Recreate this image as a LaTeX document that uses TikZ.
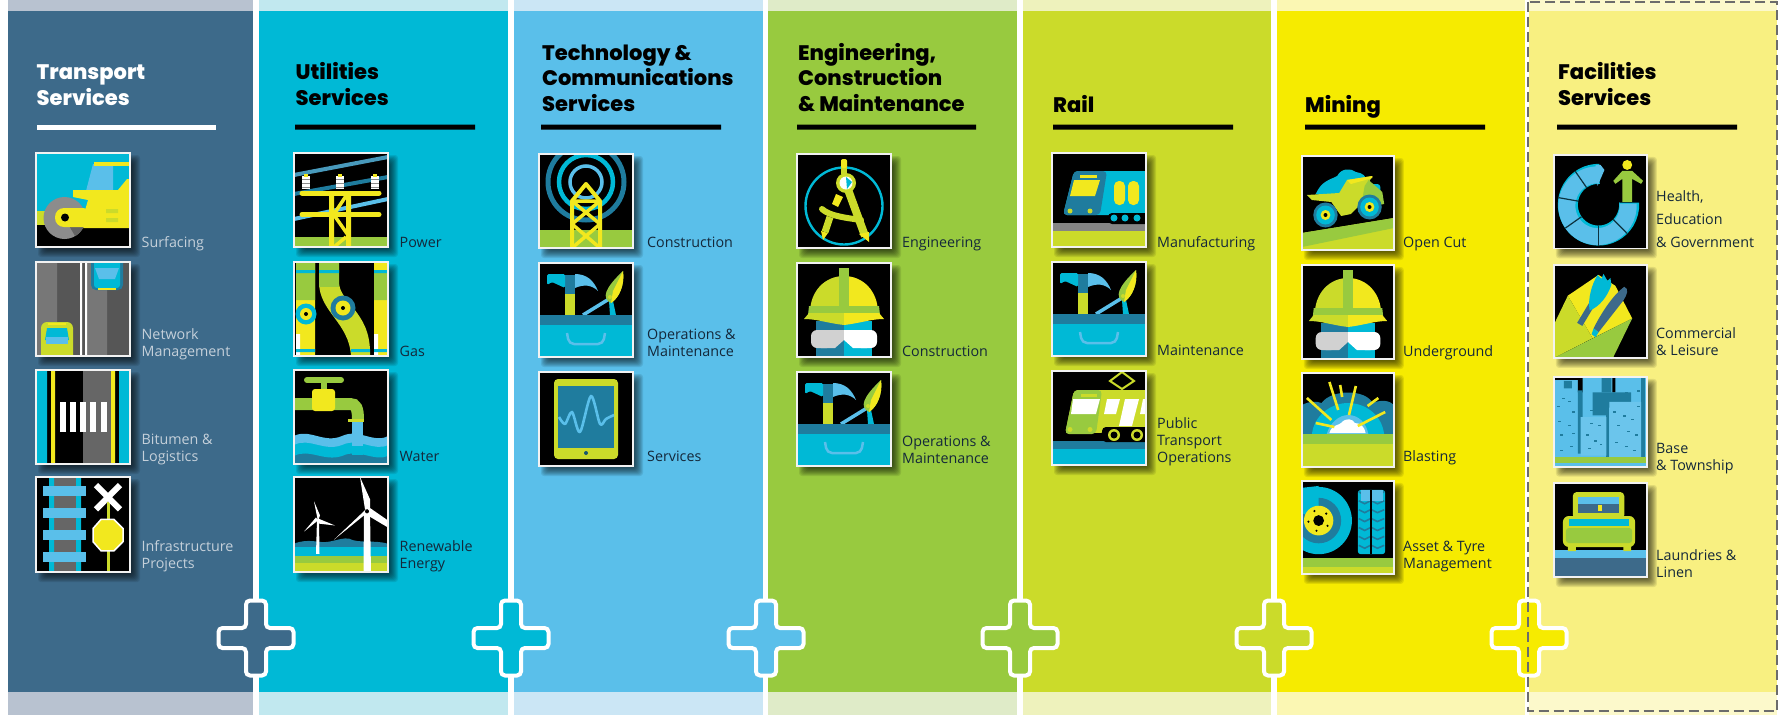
\documentclass[tikz,border=0pt]{standalone}
\usepackage{fontspec}
\newfontfamily\headf{Poppins ExtraBold}
\newfontfamily\lblf{Open Sans}
\definecolor{colA}{HTML}{3D6A8A}\definecolor{bandA}{HTML}{B8C2D0}
\definecolor{colB}{HTML}{00B9D6}\definecolor{bandB}{HTML}{C1E8EF}
\definecolor{colC}{HTML}{5ABFEA}\definecolor{bandC}{HTML}{CBE6F5}
\definecolor{colD}{HTML}{98CA3F}\definecolor{bandD}{HTML}{DFEBC8}
\definecolor{colE}{HTML}{CBDB2A}\definecolor{bandE}{HTML}{EEF2BC}
\definecolor{colF}{HTML}{F6EB00}\definecolor{bandF}{HTML}{FBF7B3}
\definecolor{colG}{HTML}{F8F081}\definecolor{bandG}{HTML}{FCF9CB}
\definecolor{cT}{HTML}{00B9D6}\definecolor{cB}{HTML}{5ABFEA}\definecolor{cD}{HTML}{1F7C9E}
\definecolor{cG}{HTML}{98CA3F}\definecolor{cL}{HTML}{CBDB2A}\definecolor{cY}{HTML}{F2E81E}
\definecolor{cN}{HTML}{3D6A8A}\definecolor{gA}{HTML}{8C8C8C}\definecolor{gB}{HTML}{666666}\definecolor{gC}{HTML}{565656}
\definecolor{lblLight}{HTML}{C5D0DA}\definecolor{lblDark}{HTML}{14283A}
\tikzset{
 headtext/.style={anchor=base west,inner sep=0pt,align=left,font=\headf\fontsize{21}{25.5}\selectfont},
 lbltext/.style={anchor=base west,inner sep=0pt,align=left,text=lblDark,font=\lblf\fontsize{14.3}{17}\selectfont},
 iconframe/.style={draw=white!90!gray,line width=1.3pt},
 plusmark/.style={draw=white,line width=4pt,rounded corners=4pt}
}
\newcommand\iconat[5]{%
 \begin{scope}[shift={(#1,#2)},xscale=#3/94,yscale=#4/94]
 \foreach \s in {-4,...,4}{\fill[black,opacity=.09,rounded corners=3pt] ({6-\s},{6-\s}) rectangle ({100+\s},{100+\s});}
 \begin{scope}\clip (0,0) rectangle (94,94); #5 \end{scope}
 \draw[iconframe] (0,0) rectangle (94,94);
 \end{scope}}
\newcommand\column[4]{% x0,x1,fill,band
 \fill[#4] (#1,0) rectangle (#2,715);
 \fill[#3] (#1,11) rectangle (#2,692);}
\newcommand\plusat[3]{%
 \draw[plusmark,fill=#3] (#1-10,#2-37.5) -- (#1+10,#2-37.5) -- (#1+10,#2-10) -- (#1+37.5,#2-10) -- (#1+37.5,#2+10) -- (#1+10,#2+10) -- (#1+10,#2+37.5) -- (#1-10,#2+37.5) -- (#1-10,#2+10) -- (#1-37.5,#2+10) -- (#1-37.5,#2-10) -- (#1-10,#2-10) -- cycle;}
% ---------- icons ----------
\newcommand\icRoller{
 \fill[cT] (0,0) rectangle (94,94);
 \fill[cL] (0,58) rectangle (14,72);
 \fill[black] (0,72) rectangle (94,94);
 \fill[cB] (57,11) -- (77,11) -- (77,38) -- (50,38) -- cycle;
 \fill[cY] (58,8.5) rectangle (94,13);
 \fill[cY] (37,37) -- (82,37) -- (91,26) -- (94,26) -- (94,75) -- (44,75) -- (52,47) -- (37,44) -- cycle;
 \fill[cL] (70,56) rectangle (82,60) (70,65) rectangle (82,69);
 \fill[gA] (28.5,65) circle (21);
 \fill[gA!70!black] (28.5,65) -- (49,70) arc (14:60:21) -- cycle;
 \fill[cY,rounded corners=9pt] (19,55) rectangle (56,74);
 \fill[black] (29,64.5) circle (4);}
\newcommand\icNetwork{
 \fill[gC] (0,0) rectangle (94,94);
 \fill[gA!85!black] (0,0) rectangle (21,94) (51,0) rectangle (71,94);
 \fill[white] (44,0) rectangle (46,94) (49,0) rectangle (51,94);
 \fill[cD,rounded corners=5pt] (55,-8) rectangle (87,28);
 \fill[cT,rounded corners=3pt] (58,-5) rectangle (84,26);
 \fill[cB] (59,6) -- (83,6) -- (79,17) -- (63,17) -- cycle;
 \fill[cY] (62,25.5) rectangle (80,27.5);
 \fill[cL,rounded corners=6pt] (5,60) rectangle (37,100);
 \fill[cY] (12,61) rectangle (30,63);
 \fill[cT] (11,66) -- (31,66) -- (33,78) -- (9,78) -- cycle;
 \fill[cB] (10,75) rectangle (32,82);}
\newcommand\icBitumen{
 \fill[black] (0,0) rectangle (94,94);
 \fill[cT] (0,0) rectangle (11,94) (83,0) rectangle (94,94);
 \fill[cY] (15,0) rectangle (19,94) (75,0) rectangle (79,94);
 \fill[gB] (47,0) rectangle (75,94);
 \foreach \i in {0,1,2,3,4}{\fill[white] ({23.5+\i*10.3},32) rectangle ({29.5+\i*10.3},62);}}
\newcommand\icRail{
 \fill[black] (0,0) rectangle (94,94);
 \fill[gB] (18,0) rectangle (40,94);
 \fill[cT] (13,0) rectangle (18,94) (40,0) rectangle (45,94);
 \foreach \y in {9,31,52,74}{\fill[cB] (7,\y) rectangle (50,{\y+10});}
 \fill[cL] (70.5,25) rectangle (73.5,94);
 \draw[white,line width=6pt] (60,8) -- (84,32) (84,8) -- (60,32);
 \fill[cY,draw=white,line width=1.5pt] (65,42) -- (78,42) -- (87,51) -- (87,64) -- (78,73) -- (65,73) -- (57,64) -- (57,51) -- cycle;}
\newcommand\icPower{
 \fill[black] (0,0) rectangle (94,94);
 \fill[cG] (0,84) rectangle (94,94);
 \draw[cB!80!black,line width=4pt] (0,22) -- (94,4);
 \draw[cD,line width=4pt] (0,41) -- (94,24);
 \draw[cB,line width=4pt] (0,66) -- (94,46);
 \foreach \x in {12,46,81}{\fill[white] ({\x-4},23) rectangle ({\x+4},36);\foreach \y in {26,30,34}{\fill[gA] ({\x-4},\y) rectangle ({\x+4},{\y+1});}\fill[cY] ({\x-2},21) rectangle ({\x+2},24);}
 \draw[cY,line width=5pt,line cap=round] (8,40) -- (85,40) (8,61.5) -- (85,61.5);
 \fill[cY] (35,40) rectangle (40,94) (52,40) rectangle (57,94);
 \draw[cY,line width=3.5pt] (52,43) -- (40,61) -- (55,61) (40,62) -- (54,82) (40,94) -- (52,84);}
\newcommand\icGas{
 \fill[black] (0,0) rectangle (94,94);
 \fill[cY] (2,0) rectangle (21,94) (80,0) rectangle (94,94);
 \fill[cG] (2,0) rectangle (21,38) (80,10) rectangle (94,38);
 \fill[white] (2,72) rectangle (6,94) (80,72) rectangle (84,94);
 \fill[cL] (25,0) -- (45,0) -- (45,20) .. controls (45,40) and (76,50) .. (76,90) -- (76,94) -- (57,94) .. controls (55,60) and (25,50) .. (25,20) -- cycle;
 \fill[cG] (25,0) rectangle (45,25);
 \fill[cT] (2,8) rectangle (21,11) (25,8) rectangle (45,11) (80,8) rectangle (94,11);
 \fill[cT] (2,87) rectangle (21,90) (57,87) rectangle (76,90) (80,87) rectangle (94,90);
 \fill[cT] (12,52) circle (10.5); \fill[cY] (12,52) circle (6); \fill[black] (12,52) circle (2);
 \fill[cD] (49,46) circle (12.5); \fill[cY] (49,46) circle (7.5); \fill[black] (49,46) circle (2);}
\newcommand\icWater{
 \fill[black] (0,0) rectangle (94,94);
 \fill[cD] (0,82) rectangle (94,94);
 \fill[cT] (0,74) .. controls (15,66) and (30,82) .. (48,74) .. controls (65,66) and (80,82) .. (94,74) -- (94,86) .. controls (80,92) and (65,78) .. (48,86) .. controls (30,92) and (15,78) .. (0,86) -- cycle;
 \fill[cB] (0,66) .. controls (15,58) and (30,74) .. (48,66) .. controls (65,58) and (80,74) .. (94,66) -- (94,75) .. controls (80,82) and (65,67) .. (48,75) .. controls (30,82) and (15,67) .. (0,75) -- cycle;
 \fill[cB] (58,52) rectangle (69,76);
 \fill[cT] (58,76) rectangle (69,85);
 \draw[cG,line width=12pt] (0,34) -- (56,34) .. controls (62,34) and (64,38) .. (64,50);
 \fill[cL] (54,49) rectangle (70,52);
 \draw[cG,line width=6pt,line cap=round] (13,10) -- (47,10);
 \fill[cG] (27,10) rectangle (33,20);
 \fill[cY,rounded corners=3pt] (18,19) rectangle (41,41);}
\newcommand\icWind{
 \fill[black] (0,0) rectangle (94,94);
 \fill[cD] (0,68) -- (0,66) .. controls (15,60) and (25,66) .. (35,64) .. controls (45,62) and (50,60) .. (55,61) .. controls (65,66) and (80,62) .. (94,66) -- (94,72) -- (0,72) -- cycle;
 \fill[cT] (0,69) rectangle (94,78);
 \fill[cG] (0,78) rectangle (94,85);
 \fill[cL] (0,85) rectangle (94,94);
 \fill[white] (23,42) -- (25,42) -- (25.5,76) -- (22,76) -- cycle;
 \fill[white] (24,44) -- (20,24) -- (26,38) -- cycle (24,41) -- (41,48) -- (24,46) -- cycle (24,43) -- (10,54) -- (22,40) -- cycle;
 \fill[white] (70,34) -- (76,34) -- (77,94) -- (69.5,94) -- cycle;
 \fill[white] (71,32) -- (66,0) -- (76,22) -- (76,32) -- cycle (75,30) -- (94,43) -- (94,50) -- (72,37) -- cycle (73,31) -- (40,62) -- (70,38) -- cycle;
 \fill[black] (73,34) circle (2);}
\newcommand\icMast{
 \fill[black] (0,0) rectangle (94,94);
 \draw[cD,line width=5pt] (47,28) circle (38);
 \draw[cT,line width=4.5pt] (47,28) circle (27);
 \draw[cB,line width=3.5pt] (47,28) circle (16);
 \fill[cG] (0,76) rectangle (94,94);
 \draw[cY,line width=4pt,line join=round] (33,94) -- (33,47) -- (47,30) -- (61,47) -- (61,94);
 \draw[cY,line width=3.5pt] (33,47) -- (61,70) (61,47) -- (33,70) (33,70) -- (61,94) (61,70) -- (33,94) (33,47) -- (61,47);}
\newcommand\icTools{
 \fill[black] (0,0) rectangle (94,94);
 \fill[cL] (26,31) rectangle (36,52);
 \fill[cD] (26,12) rectangle (36,31);
 \fill[cT,rounded corners=1.5pt] (26,11) -- (8,11) -- (8,22) -- (13,19) -- (26,25) -- cycle;
 \fill[cB] (36,11) .. controls (48,11) and (55,18) .. (59,28) .. controls (53,22) and (45,21) .. (36,25) -- cycle;
 \draw[cB,line width=3.5pt] (70,36) -- (44,52);
 \fill[cT] (70,38) -- (74,38) -- (77,52) -- (71,52) -- cycle;
 \fill[cG] (84,8) .. controls (86,22) and (80,35) .. (72,40) .. controls (62,35) and (66,25) .. (84,8) -- cycle;
 \fill[cY] (84,8) .. controls (86,22) and (80,35) .. (72,40) -- (74,28) -- cycle;
 \fill[cL] (71,34) circle (2);
 \fill[cD] (0,52) rectangle (94,62);
 \fill[cT] (0,62) rectangle (94,94);
 \draw[cB,line width=2.5pt,rounded corners=5pt] (28,70) -- (30,81) -- (64,81) -- (66,70);}
\newcommand\icTablet{
 \fill[black] (0,0) rectangle (94,94);
 \fill[cL,rounded corners=4pt] (15,7) rectangle (79,87);
 \fill[cD] (19,14) rectangle (75,76);
 \fill[cD!70!black] (47,81) circle (2);
 \draw[cB,line width=2.6pt,line join=round] plot[smooth] coordinates {(20,45) (26,52) (33,40) (41,60) (52,24) (61,52) (67,47) (75,43)};}
\newcommand\icCompass{
 \fill[black] (0,0) rectangle (94,94);
 \draw[cT,line width=2.4pt] (47,52) circle (38.5);
 \draw[cL,line width=8pt] (49,30) -- (68,82);
 \fill[cY] (62,80) -- (72,78) -- (72,88) -- cycle;
 \fill[cL] (44,6) rectangle (50,20);
 \fill[cY,rounded corners=2pt] (44,5) rectangle (50,14);
 \fill[cL] (49,29) circle (10);
 \fill[white] (49,29) circle (6.5);
 \fill[cT] (49,23) -- (55,28) -- (50,35) -- cycle;
 \fill[cY] (39,40) -- (46,43) -- (41,53) -- (35,50) -- cycle;
 \draw[cL,line width=6pt,line cap=round] (25,55) .. controls (32,62) and (50,64) .. (64,66);
 \draw[cL,line width=7pt] (33,63) -- (28,78);
 \fill[cY] (24,77) -- (31,79) -- (26,86) -- cycle;}
\newcommand\icHelmet{
 \fill[black] (0,0) rectangle (94,94);
 \fill[cT] (19,58) rectangle (75,94);
 \fill[cD] (19,58) rectangle (47,94);
 \fill[cL] (13,50) .. controls (13,28) and (28,13) .. (47,13) -- (47,50) -- cycle;
 \fill[cY] (81,50) .. controls (81,28) and (66,13) .. (47,13) -- (47,50) -- cycle;
 \fill[cG] (42,5) rectangle (52,50);
 \fill[cG] (12,43) -- (82,43) -- (83,52) -- (11,52) -- cycle;
 \fill[cL] (7,56) -- (12,50) -- (47,50) -- (47,62) .. controls (30,60) and (20,56) .. (7,56) -- cycle;
 \fill[cY] (87,56) -- (82,50) -- (47,50) -- (47,62) .. controls (64,60) and (74,56) .. (87,56) -- cycle;
 \fill[gA!40!white,rounded corners=6pt] (14,67) rectangle (36,85);
 \fill[gA!40!white] (24,67) -- (47,67) -- (47,77) -- (38,85) -- (24,85) -- cycle;
 \fill[white,rounded corners=6pt] (58,67) rectangle (80,85);
 \fill[white] (70,67) -- (47,67) -- (47,77) -- (56,85) -- (70,85) -- cycle;}
\newcommand\icTrain{
 \fill[black] (0,0) rectangle (94,94);
 \fill[gB!80!white] (0,70) rectangle (94,78);
 \fill[cL] (0,78) rectangle (94,94);
 \fill[cT,rounded corners=4pt] (22,18) -- (100,18) -- (100,62) -- (11,62) -- cycle;
 \fill[cD,rounded corners=4pt] (22,18) -- (55,18) -- (48,62) -- (11,62) -- cycle;
 \fill[cY] (22,27) -- (48,27) -- (43,43) -- (18,43) -- cycle;
 \fill[cY] (28,22) rectangle (45,25);
 \fill[cY,rounded corners=5pt] (62,28) rectangle (73,52) (76,28) rectangle (87,52);
 \fill[cL] (18,58) circle (2.5) (38,58) circle (2.5);
 \fill[black,rounded corners=4pt] (56,60) rectangle (100,71);
 \fill[cT] (62,65) circle (3.5) (73,65) circle (3.5) (85,65) circle (3.5);}
\newcommand\icTram{
 \fill[black] (0,0) rectangle (94,94);
 \fill[cD] (0,70) rectangle (94,78);
 \fill[cT] (0,78) rectangle (94,94);
 \fill[cL,rounded corners=4pt] (22,19) -- (100,19) -- (100,60) -- (13,63) -- cycle;
 \fill[cG,rounded corners=4pt] (22,19) -- (50,19) -- (44,63) -- (13,63) -- cycle;
 \fill[white] (21,28) -- (48,28) -- (44,43) -- (19,43) -- cycle;
 \fill[white] (55,28) -- (68,28) -- (64,43) -- (52,43) -- cycle;
 \fill[white] (73,28) -- (87,28) -- (80,55) -- (67,55) -- cycle;
 \fill[white] (91,28) -- (94,28) -- (94,43) -- (88,43) -- cycle;
 \fill[cL] (29,23) rectangle (45,26);
 \fill[cL] (18,58.5) circle (2.5) (38,58.5) circle (2.5);
 \fill[black,rounded corners=4pt] (50,56) rectangle (100,71);
 \fill[cL] (62,64) circle (6) (85,64) circle (6);
 \fill[black] (62,64) circle (3.5) (85,64) circle (3.5);
 \draw[cL,line width=2pt] (70,1) -- (82,10) -- (70,18) -- (58,10) -- cycle;}
\newcommand\icTruck{
 \fill[black] (0,0) rectangle (94,94);
 \fill[cL] (0,77) -- (94,62) -- (94,94) -- (0,94) -- cycle;
 \fill[cG] (0,77) -- (94,62) -- (94,72) -- (0,91) -- cycle;
 \fill[cT] (14,38) .. controls (20,25) and (28,24) .. (36,20) .. controls (40,12) and (50,12) .. (55,16) .. controls (62,17) and (66,20) .. (66,26) -- (50,48) -- cycle;
 \fill[cT,rounded corners=3pt] (62,28) rectangle (80,46);
 \fill[cL] (5,39) -- (38,37) -- (46,24) -- (72,20) -- (66,30) -- (62,46) -- (50,58) -- (40,60) -- (30,46) -- (10,44) -- cycle;
 \fill[cY] (46,24) -- (72,20) -- (72,22) -- (50,28) -- cycle;
 \fill[cG] (64,30) -- (68,24) -- (82,36) -- (84,48) -- (60,52) -- cycle;
 \fill[cD] (24,59) circle (12.5) (69,51) circle (12.5);
 \fill[cT] (24,59) circle (9.5) (69,51) circle (9.5);
 \fill[cY] (24,59) circle (5) (69,51) circle (5);
 \fill[black] (24,59) circle (2) (69,51) circle (2);}
\newcommand\icBlast{
 \fill[black] (0,0) rectangle (94,94);
 \fill[cD] (0,62) -- (0,32) .. controls (8,28) and (14,28) .. (20,30) .. controls (30,16) and (65,16) .. (72,30) .. controls (82,26) and (90,28) .. (94,32) -- (94,62) -- cycle;
 \fill[cT] (10,62) .. controls (12,42) and (30,30) .. (47,30) .. controls (65,30) and (82,42) .. (84,62) -- cycle;
 \fill[cB] (25,62) .. controls (28,50) and (38,42) .. (47,42) .. controls (58,42) and (66,50) .. (68,62) -- cycle;
 \fill[white] (28,60) .. controls (30,52) and (38,52) .. (40,50) .. controls (45,44) and (52,46) .. (54,50) .. controls (60,50) and (64,54) .. (65,60) -- cycle;
 \fill[cG] (0,61) rectangle (94,71);
 \fill[cL] (0,71) rectangle (94,94);
 \draw[cY,line width=2.6pt] (5,25) -- (30,47) (14,50) -- (33,54) (28,9) -- (37,37) (39,12) -- (41,24) (55,13) -- (48,42) (67,33) -- (78,25) (57,53) -- (85,39);}
\newcommand\icTyre{
 \fill[black] (0,0) rectangle (94,94);
 \fill[cG] (0,78) rectangle (94,87);
 \fill[cL] (0,87) rectangle (94,94);
 \fill[cT] (17,40) circle (34);
 \fill[cD] (17,40) circle (23);
 \fill[cT] (17,40) -- (-10,28) -- (-10,8) -- (17,5) -- cycle;
 \fill[cY] (17,40) circle (15);
 \fill[black] (17,40) circle (5.5);
 \foreach \a in {30,102,174,246,318}{\fill[black] (17,40) ++(\a:10.5) circle (1.2);}
 \fill[cT,rounded corners=3pt] (57,9) rectangle (85,74);
 \foreach \y in {14,23,32,41,50,59,68}{\draw[cD,line width=1.6pt] (58,\y-3) -- (64,\y) -- (70,\y-3) -- (71,\y-3) -- (77,\y) -- (84,\y-3);}
 \fill[cB] (60,9) rectangle (83,20);
 \fill[black] (69.5,9) rectangle (71.5,74);}
\newcommand\icHealth{
 \fill[black] (0,0) rectangle (94,94);
 \draw[cT,line width=20pt] (45,50) ++(272:31) arc (272:-4:31);
 \draw[cB,line width=17pt] (44,51) ++(272:31) arc (272:-4:31);
 \foreach \a in {145,190,235,90,45}{\draw[black!60!cD,line width=1.2pt] (45,50) ++(\a:21) -- ++(\a:20);}
 \fill[cB] (42,10) -- (47,10) -- (51,15) -- (44,31) -- cycle;
 \fill[cY] (74,10) circle (5);
 \fill[cG] (69,16) -- (79,16) -- (90,26) -- (88,29) -- (79,24) -- (79,47) -- (69,47) -- (69,24) -- (62,29) -- (60,26) -- cycle;}
\newcommand\icFood{
 \fill[black] (0,0) rectangle (94,94);
 \fill[cY] (14,31) -- (45,10) -- (62,21) -- (79,54) -- (39,74) -- cycle;
 \fill[cL] (14,31) -- (0,60) -- (0,94) -- (39,74) -- cycle;
 \fill[cG] (0,94) -- (79,54) -- (60,93) -- cycle;
 \draw[cN,line width=6pt] (38,40) -- (26,60);
 \fill[cT] (44,10) -- (48,14) -- (50,9) -- (54,16) -- (57,13) -- (58,20) .. controls (54,32) and (46,42) .. (36,46) .. controls (34,34) and (38,20) .. (44,10) -- cycle;
 \fill[cN] (71,22) .. controls (76,24) and (74,30) .. (70,36) -- (45,68) -- (40,64) .. controls (48,48) and (60,30) .. (71,22) -- cycle;
 \fill[cT] (45,68) -- (40,64) -- (38,70) -- (42,73) -- cycle;}
\newcommand\icCity{
 \fill[cB] (0,0) rectangle (94,94);
 \fill[black] (0,0) rectangle (24,3) (24,0) rectangle (29,16) (59,0) rectangle (62,16);
 \fill[cD] (10,4) rectangle (18,12) (48,0) rectangle (58,16) (24,14) rectangle (29,80);
 \fill[cD] (39,16) rectangle (78,32) (39,16) rectangle (53,40);
 \fill[cD] (88,0) rectangle (92,88);
 \fill[cD] (53,30) rectangle (56,84);
 \fill[cB!90!white] (27,42) rectangle (53,82) (56,26) rectangle (88,84);
 \fill[black] (0,0) rectangle (24,2);
 \fill[cG] (0,84) rectangle (94,90);
 \foreach \x/\y in {8/22,14/25,3/30,18/36,4/46,14/50,18/58,6/60,16/72,6/76,36/48,44/50,32/60,40/66,46/70,34/74,60/36,70/40,78/44,64/50,74/56,82/60,62/68,72/72,80/76,84/30,36/34,72/16,84/14}{\fill[cD] (\x,\y) rectangle ({\x+3},{\y+1.4});}}
\newcommand\icBed{
 \fill[black] (0,0) rectangle (94,94);
 \fill[cN] (0,75) rectangle (94,94);
 \fill[cB] (0,67) rectangle (94,75);
 \fill[cL] (14,62) rectangle (22,68) (70,62) rectangle (78,68);
 \fill[cL,rounded corners=4pt] (19,9) rectangle (71,36);
 \fill[cB] (24,14) rectangle (66,21);
 \fill[cN] (24,21) rectangle (66,30);
 \fill[cY] (44,22) rectangle (48,28);
 \fill[cL,rounded corners=6pt] (9,33) -- (82,33) -- (82,64) -- (9,64) -- cycle;
 \fill[cT] (15,36) rectangle (76,43);
 \fill[cG,rounded corners=3pt] (12,45) rectangle (79,60);}
\begin{document}
\begin{tikzpicture}[x=1pt,y=-1pt]
\useasboundingbox (0,0) rectangle (1781,715);
\fill[white] (0,0) rectangle (1781,715);
\column{7.5}{253}{colA}{bandA}
\column{259}{508}{colB}{bandB}
\column{514}{763}{colC}{bandC}
\column{768}{1017}{colD}{bandD}
\column{1023}{1271}{colE}{bandE}
\column{1277}{1525}{colF}{bandF}
\column{1529}{1777}{colG}{bandG}
% rules
\fill[white] (37,124.5) rectangle (216,129.5);
\fill[black] (295,124.5) rectangle (475,129.5) (541,124.5) rectangle (721,129.5) (797,124.5) rectangle (976,129.5) (1053,124.5) rectangle (1233,129.5) (1305,124.5) rectangle (1485,129.5) (1557,124.5) rectangle (1737,129.5);
% headings
\node[headtext,text=white] (hA) at (36.5,105) {Transport\\Services};
\node[headtext] (hB) at (295.5,105) {Utilities\\Services};
\node[headtext] (hC) at (542,111) {Technology \&\\Communications\\Services};
\node[headtext] (hD) at (798,111) {Engineering,\\Construction\\\& Maintenance};
\node[headtext] (hE) at (1053,112) {Rail};
\node[headtext] (hF) at (1305,112) {Mining};
\node[headtext] (hG) at (1558,105) {Facilities\\Services};
% icons
\iconat{36}{153}{94}{94}{\icRoller}
\iconat{36}{262}{94}{94}{\icNetwork}
\iconat{36}{370}{94}{94}{\icBitumen}
\iconat{36}{477}{94}{95}{\icRail}
\iconat{294}{153}{94}{94}{\icPower}
\iconat{294}{262}{94}{94}{\icGas}
\iconat{294}{370}{94}{94}{\icWater}
\iconat{294}{477}{94}{95}{\icWind}
\iconat{539}{154}{94}{94}{\icMast}
\iconat{539}{263}{94}{94}{\icTools}
\iconat{539}{372}{94}{94}{\icTablet}
\iconat{797}{154}{94}{94}{\icCompass}
\iconat{797}{263}{94}{94}{\icHelmet}
\iconat{797}{372}{94}{94}{\icTools}
\iconat{1052}{153}{94}{94}{\icTrain}
\iconat{1052}{262}{94}{94}{\icTools}
\iconat{1052}{371}{94}{94}{\icTram}
\iconat{1302}{156}{92}{94}{\icTruck}
\iconat{1302}{265}{92}{94}{\icHelmet}
\iconat{1302}{373}{92}{94}{\icBlast}
\iconat{1302}{481}{92}{93}{\icTyre}
\iconat{1554}{155}{93}{93.5}{\icHealth}
\iconat{1554}{265}{93}{93}{\icFood}
\iconat{1554}{377}{93}{90}{\icCity}
\iconat{1554}{483}{93}{94}{\icBed}
% labels
\node[lbltext,text=lblLight] (a1) at (141.5,247) {Surfacing};
\node[lbltext,text=lblLight] (a2) at (141.5,356) {Network\\Management};
\node[lbltext,text=lblLight] (a3) at (141.5,461) {Bitumen \&\\Logistics};
\node[lbltext,text=lblLight] (a4) at (141.5,568) {Infrastructure\\Projects};
\node[lbltext] (b1) at (399.5,247) {Power};
\node[lbltext] (b2) at (399.5,356) {Gas};
\node[lbltext] (b3) at (399.5,461) {Water};
\node[lbltext] (b4) at (399.5,568) {Renewable\\Energy};
\node[lbltext] (c1) at (647,247) {Construction};
\node[lbltext] (c2) at (647,356) {Operations \&\\Maintenance};
\node[lbltext] (c3) at (647,461) {Services};
\node[lbltext] (d1) at (902,247) {Engineering};
\node[lbltext] (d2) at (902,356) {Construction};
\node[lbltext] (d3) at (902,463) {Operations \&\\Maintenance};
\node[lbltext] (e1) at (1157,247) {Manufacturing};
\node[lbltext] (e2) at (1157,355) {Maintenance};
\node[lbltext] (e3) at (1157,462) {Public\\Transport\\Operations};
\node[lbltext] (f1) at (1403,247) {Open Cut};
\node[lbltext] (f2) at (1403,356) {Underground};
\node[lbltext] (f3) at (1403,461) {Blasting};
\node[lbltext] (f4) at (1403,568) {Asset \& Tyre\\Management};
\node[lbltext] (g1) at (1656,247.5) {Health,\\[6pt]Education\\[6pt]\& Government};
\node[lbltext] (g2) at (1656,355) {Commercial\\\& Leisure};
\node[lbltext] (g3) at (1656,470) {Base\\\& Township};
\node[lbltext] (g4) at (1656,577) {Laundries \&\\Linen};
% pluses
\plusat{256}{638}{colA}
\plusat{511}{638}{colB}
\plusat{766}{638}{colC}
\plusat{1020}{638}{colD}
\plusat{1274}{638}{colE}
\plusat{1529}{638}{colF}
% dashed frame
\draw[gray!85!black,line width=2pt,dash pattern=on 10pt off 5pt] (1528,1.5) rectangle (1777,711);
\end{tikzpicture}
\end{document}
